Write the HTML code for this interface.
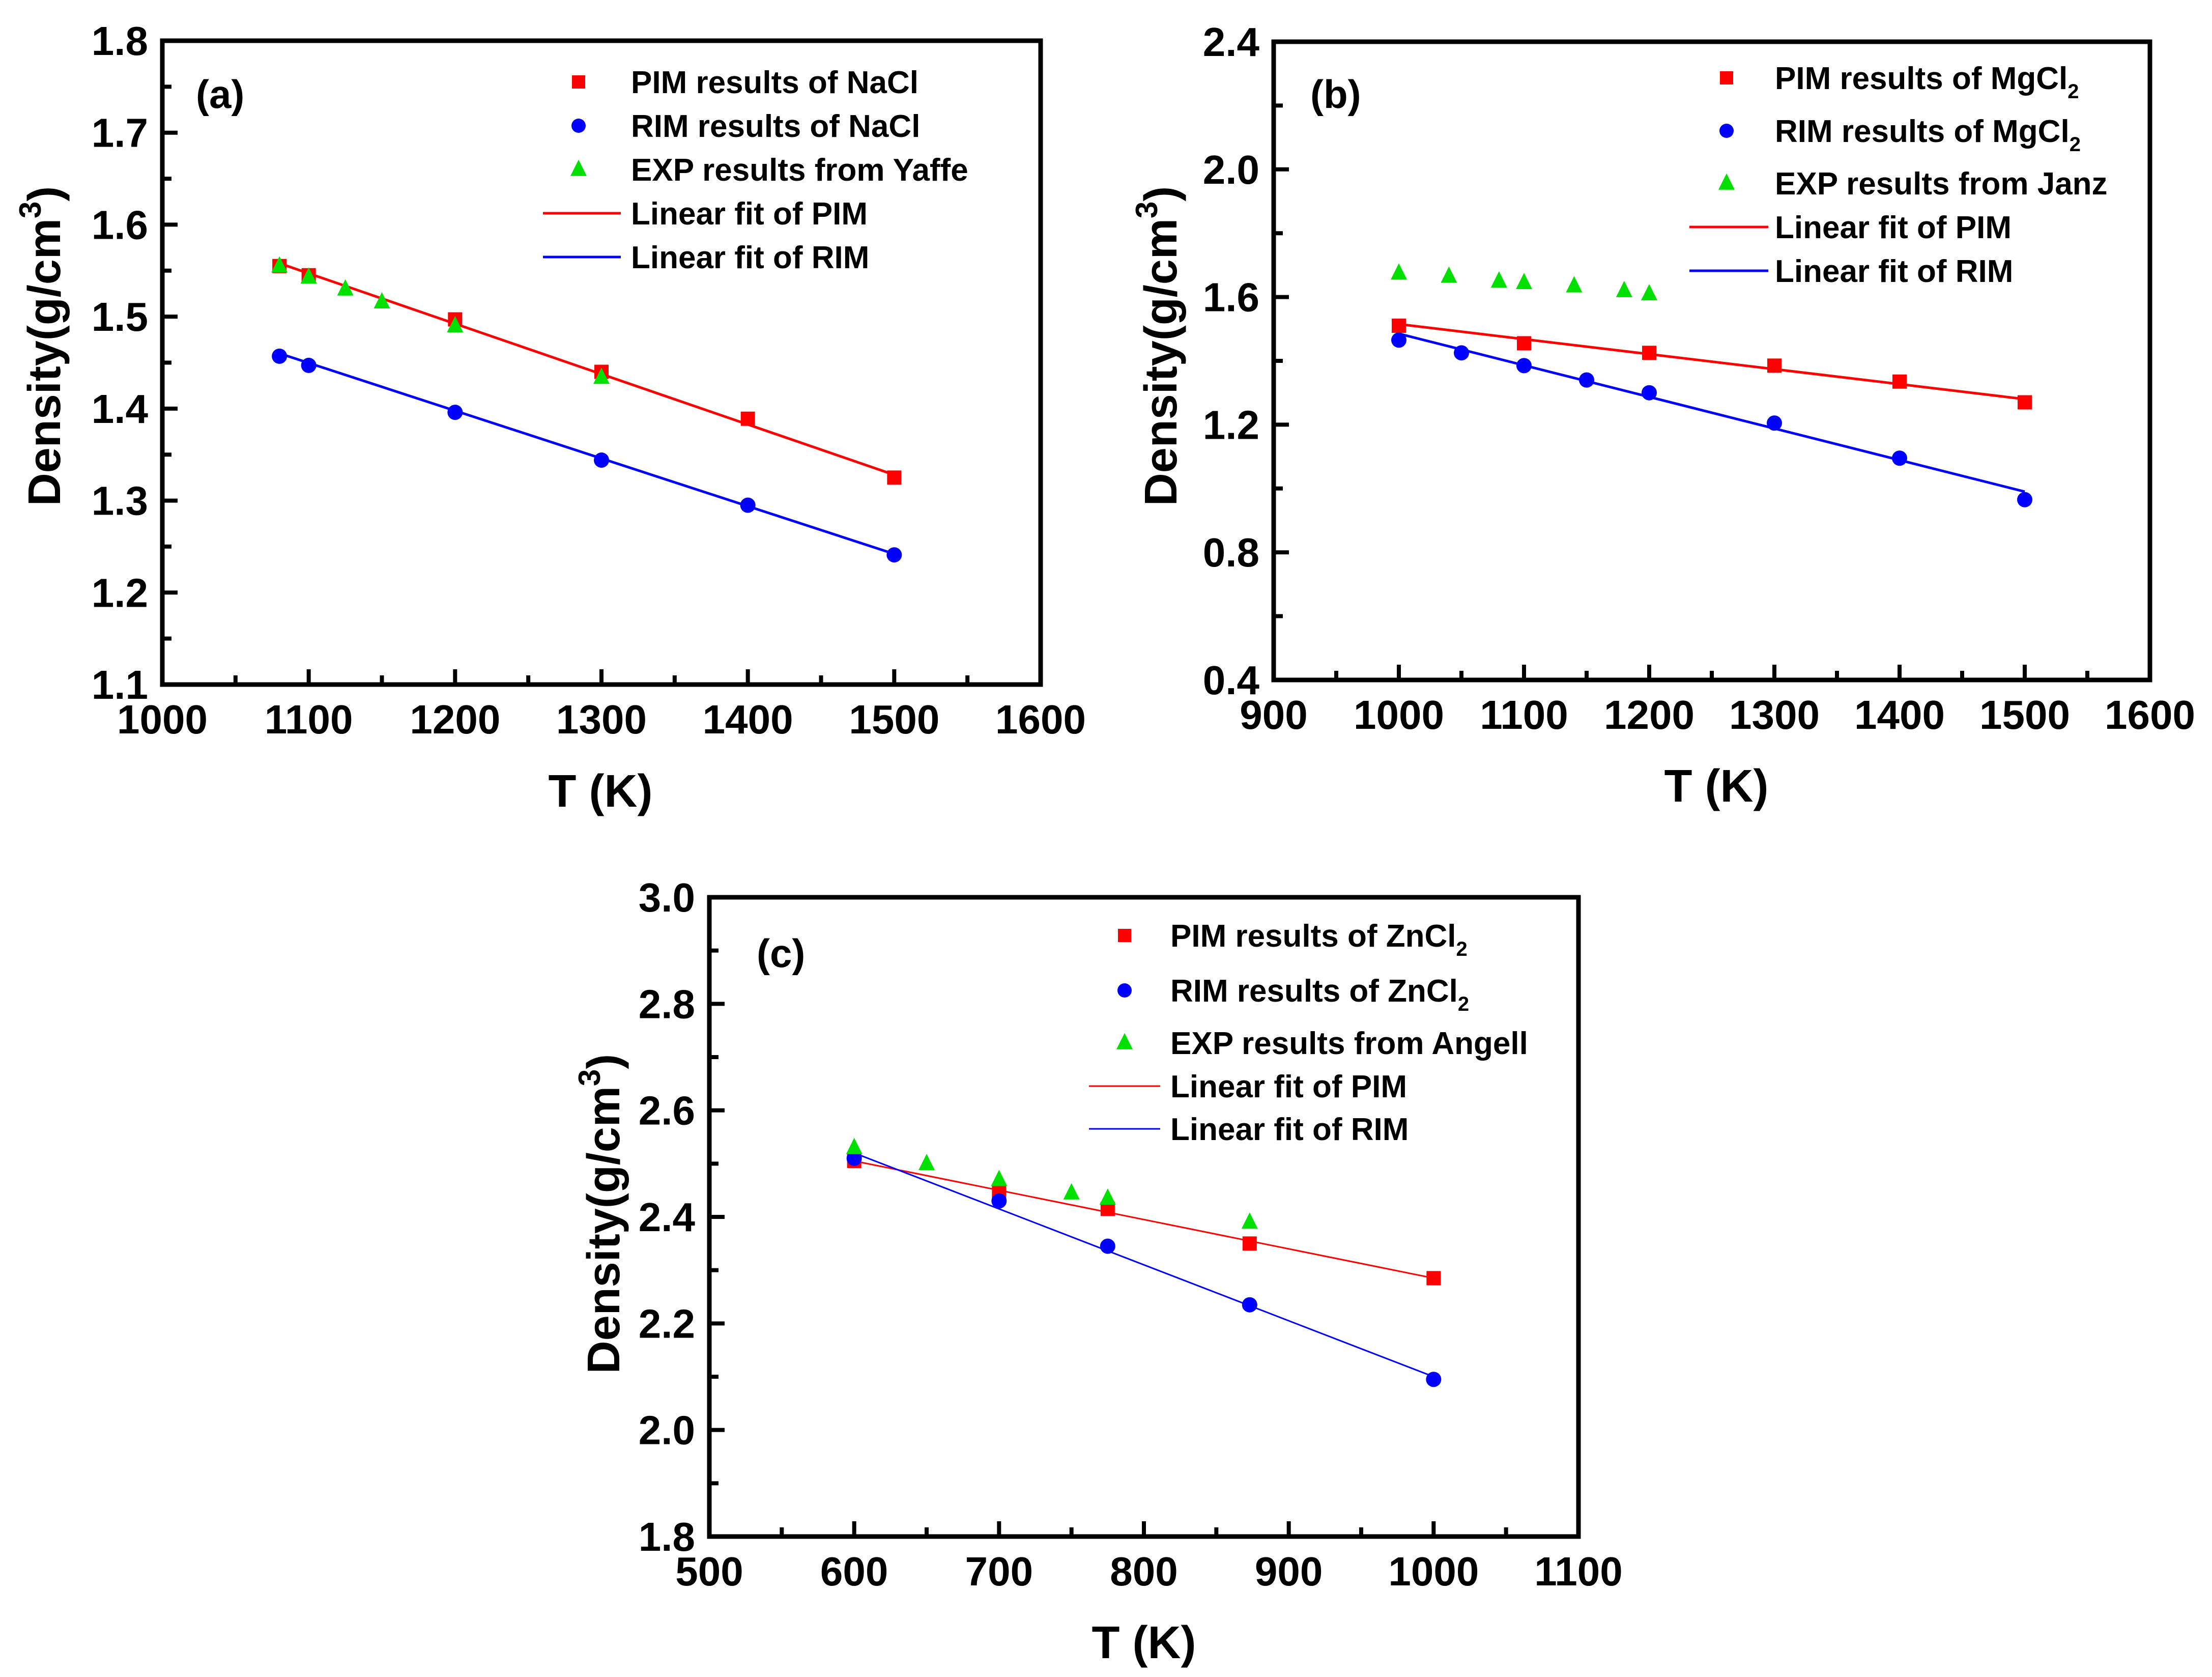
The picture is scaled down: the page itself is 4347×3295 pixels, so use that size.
<!DOCTYPE html>
<html><head><meta charset="utf-8">
<style>
html,body{margin:0;padding:0;background:#fff;}
svg{display:block;font-family:"Liberation Sans",Arial,sans-serif;font-weight:bold;}
</style></head>
<body>
<svg id="fig" width="4347" height="3295" viewBox="0 0 4347 3295" xmlns="http://www.w3.org/2000/svg">
<rect width="4347" height="3295" fill="#fff"/>
</svg>
<script>
// Panel (a) NaCl
const aPimX=[1080,1100,1200,1300,1400,1500];
const aPimY=[1.555,1.545,1.497,1.440,1.389,1.325];
const aRimX=[1080,1100,1200,1300,1400,1500];
const aRimY=[1.457,1.447,1.396,1.344,1.295,1.241];
const aExpX=[1080,1100,1125,1150,1200,1300];
const aExpY=[1.555,1.543,1.530,1.516,1.490,1.434];
const aFitPimX=[1080,1500];const aFitPimY=[1.558,1.328];
const aFitRimX=[1080,1500];const aFitRimY=[1.460,1.242];
const aXTicks=[1000,1100,1200,1300,1400,1500,1600];
const aYTicks=[1.1,1.2,1.3,1.4,1.5,1.6,1.7,1.8];
// Panel (b) MgCl2
const bPimX=[1000,1100,1200,1300,1400,1500];
const bPimY=[1.51,1.455,1.425,1.385,1.335,1.27];
const bRimX=[1000,1050,1100,1150,1200,1300,1400,1500];
const bRimY=[1.465,1.425,1.385,1.34,1.30,1.205,1.095,0.965];
const bExpX=[1000,1040,1080,1100,1140,1180,1200];
const bExpY=[1.675,1.665,1.65,1.645,1.635,1.62,1.61];
const bFitPimX=[1000,1500];const bFitPimY=[1.515,1.28];
const bFitRimX=[1000,1500];const bFitRimY=[1.485,0.99];
const bXTicks=[900,1000,1100,1200,1300,1400,1500,1600];
const bYTicks=[0.4,0.8,1.2,1.6,2.0,2.4];
// Panel (c) ZnCl2
const cPimX=[600,700,775,873,1000];
const cPimY=[2.505,2.445,2.415,2.35,2.285];
const cRimX=[600,700,775,873,1000];
const cRimY=[2.51,2.43,2.345,2.235,2.095];
const cExpX=[600,650,700,750,775,873];
const cExpY=[2.53,2.50,2.47,2.445,2.435,2.39];
const cFitPimX=[600,1000];const cFitPimY=[2.505,2.285];
const cFitRimX=[600,1000];const cFitRimY=[2.52,2.10];
const cXTicks=[500,600,700,800,900,1000,1100];
const cYTicks=[1.8,2.0,2.2,2.4,2.6,2.8,3.0];

const NS="http://www.w3.org/2000/svg";
const svg=document.getElementById('fig');
function mk(tag,attrs,parent,name,text){
  const e=document.createElementNS(NS,tag);
  for(const k in attrs)e.setAttribute(k,attrs[k]);
  
  
  if(text!==undefined)e.textContent=text;
  (parent||svg).appendChild(e);return e;
}
function square(g,x,y,s,name){mk('rect',{x:x-s/2,y:y-s/2,width:s,height:s,fill:'#ff0000'},g,name);}
function circle(g,x,y,r,name){mk('circle',{cx:x,cy:y,r:r,fill:'#0000ff'},g,name);}
function tri(g,x,y,s,name){mk('polygon',{points:`${x},${y-s*0.6} ${x-s/2},${y+s*0.4} ${x+s/2},${y+s*0.4}`,fill:'#00e000'},g,name);}

function panel(p){
  const g=mk('g',{},svg,'panel-'+p.id);
  const X=v=>p.L+(v-p.xmin)/(p.xmax-p.xmin)*(p.R-p.L);
  const Y=v=>p.B-(v-p.ymin)/(p.ymax-p.ymin)*(p.B-p.T);
  const xt=p.xticks, yt=p.yticks;
  for(let i=0;i<xt.length;i++){
    const x=X(xt[i]);
    mk('line',{x1:x,y1:p.B,x2:x,y2:p.B-30,stroke:'#000','stroke-width':8},g,'x-tick');
    if(i<xt.length-1){const xm=X((xt[i]+xt[i+1])/2);
      mk('line',{x1:xm,y1:p.B,x2:xm,y2:p.B-18,stroke:'#000','stroke-width':8},g,'x-minor-tick');}
    mk('text',{x:x,y:p.B+96,'text-anchor':'middle','font-size':80},g,'x-tick-label',String(xt[i]));
  }
  for(let i=0;i<yt.length;i++){
    const y=Y(yt[i]);
    mk('line',{x1:p.L,y1:y,x2:p.L+30,y2:y,stroke:'#000','stroke-width':8},g,'y-tick');
    if(i<yt.length-1){const ym=Y((yt[i]+yt[i+1])/2);
      mk('line',{x1:p.L,y1:ym,x2:p.L+18,y2:ym,stroke:'#000','stroke-width':8},g,'y-minor-tick');}
    mk('text',{x:p.L-28,y:y+28,'text-anchor':'end','font-size':80},g,'y-tick-label',yt[i].toFixed(1));
  }
  mk('rect',{x:p.L,y:p.T,width:p.R-p.L,height:p.B-p.T,fill:'none',stroke:'#000','stroke-width':9},g,'plot-frame');
  mk('line',{x1:X(p.fpx[0]),y1:Y(p.fpy[0]),x2:X(p.fpx[1]),y2:Y(p.fpy[1]),stroke:'#ff0000','stroke-width':p.lw},g,'pim-fit-line');
  mk('line',{x1:X(p.frx[0]),y1:Y(p.fry[0]),x2:X(p.frx[1]),y2:Y(p.fry[1]),stroke:'#0000ff','stroke-width':p.lw},g,'rim-fit-line');
  p.px.forEach((v,i)=>square(g,X(v),Y(p.py[i]),28,'pim-point'));
  p.rx.forEach((v,i)=>circle(g,X(v),Y(p.ry[i]),15,'rim-point'));
  p.ex.forEach((v,i)=>tri(g,X(v),Y(p.ey[i]),32,'exp-point'));
  const lg=mk('g',{},g,'legend');
  const rows=p.rows, fs=62;
  square(lg,p.mx,rows[0],26,'legend-pim-marker');
  circle(lg,p.mx,rows[1],14,'legend-rim-marker');
  tri(lg,p.mx,rows[2],32,'legend-exp-marker');
  mk('line',{x1:p.lx1,y1:rows[3],x2:p.lx2,y2:rows[3],stroke:'#ff0000','stroke-width':p.lw},lg,'legend-pim-fit-line');
  mk('line',{x1:p.lx1,y1:rows[4],x2:p.lx2,y2:rows[4],stroke:'#0000ff','stroke-width':p.lw},lg,'legend-rim-fit-line');
  for(let i=0;i<5;i++){
    const t=mk('text',{x:p.tx,y:rows[i]+22,'font-size':fs},lg,'legend-label');
    if(p.labels[i].sub){
      t.appendChild(document.createTextNode(p.labels[i].t));
      const s=document.createElementNS(NS,'tspan');
      s.setAttribute('font-size',40);s.setAttribute('dy',18);s.textContent='2';t.appendChild(s);
    } else t.textContent=p.labels[i].t;
  }
  mk('text',{x:p.plx,y:p.ply,'font-size':78},g,'panel-label','('+p.id+')');
  mk('text',{x:p.xtx,y:p.xty,'text-anchor':'middle','font-size':90},g,'x-axis-title','T (K)');
  const yt2=mk('text',{x:0,y:0,'text-anchor':'middle','font-size':90,transform:`translate(${p.ytx},${p.yty}) rotate(-90)`},g,'y-axis-title');
  yt2.appendChild(document.createTextNode('Density(g/cm'));
  const sp=document.createElementNS(NS,'tspan');sp.setAttribute('font-size',60);sp.setAttribute('dy',-38);sp.textContent='3';yt2.appendChild(sp);
  const sp2=document.createElementNS(NS,'tspan');sp2.setAttribute('dy',38);sp2.textContent=')';yt2.appendChild(sp2);
}

panel({id:'a',L:319,R:2045,T:80,B:1345,xmin:1000,xmax:1600,ymin:1.1,ymax:1.8,xticks:aXTicks,yticks:aYTicks,
  px:aPimX,py:aPimY,rx:aRimX,ry:aRimY,ex:aExpX,ey:aExpY,fpx:aFitPimX,fpy:aFitPimY,frx:aFitRimX,fry:aFitRimY,lw:5,
  rows:[161,247,333,419,505],mx:1137,lx1:1067,lx2:1220,tx:1240,
  labels:[{t:'PIM results of NaCl'},{t:'RIM results of NaCl'},{t:'EXP results from Yaffe'},{t:'Linear fit of PIM'},{t:'Linear fit of RIM'}],
  plx:385,ply:212,xtx:1180,xty:1585,ytx:118,yty:680});
panel({id:'b',L:2503,R:4225,T:82,B:1336,xmin:900,xmax:1600,ymin:0.4,ymax:2.4,xticks:bXTicks,yticks:bYTicks,
  px:bPimX,py:bPimY,rx:bRimX,ry:bRimY,ex:bExpX,ey:bExpY,fpx:bFitPimX,fpy:bFitPimY,frx:bFitRimX,fry:bFitRimY,lw:5,
  rows:[153,257,360,446,532],mx:3393,lx1:3320,lx2:3475,tx:3488,
  labels:[{t:'PIM results of MgCl',sub:1},{t:'RIM results of MgCl',sub:1},{t:'EXP results from Janz'},{t:'Linear fit of PIM'},{t:'Linear fit of RIM'}],
  plx:2575,ply:212,xtx:3373,xty:1575,ytx:2312,yty:680});
panel({id:'c',L:1394,R:3102,T:1763,B:3019,xmin:500,xmax:1100,ymin:1.8,ymax:3.0,xticks:cXTicks,yticks:cYTicks,
  px:cPimX,py:cPimY,rx:cRimX,ry:cRimY,ex:cExpX,ey:cExpY,fpx:cFitPimX,fpy:cFitPimY,frx:cFitRimX,fry:cFitRimY,lw:3,
  rows:[1838,1946,2049,2134,2218],mx:2210,lx1:2140,lx2:2280,tx:2300,
  labels:[{t:'PIM results of ZnCl',sub:1},{t:'RIM results of ZnCl',sub:1},{t:'EXP results from Angell'},{t:'Linear fit of PIM'},{t:'Linear fit of RIM'}],
  plx:1487,ply:1900,xtx:2248,xty:3258,ytx:1217,yty:2385});
</script>
</body></html>
